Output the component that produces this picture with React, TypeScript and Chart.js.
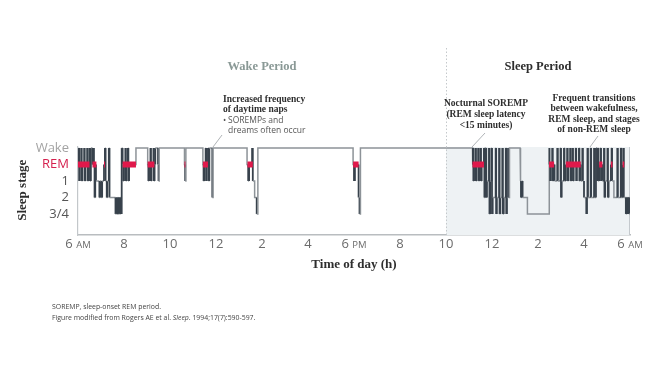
import React, { useEffect, useRef } from 'react';
import { Chart, registerables } from 'chart.js';

Chart.register(...registerables);

// Hypnogram: time of day in hours (6 = 6 AM, 30 = 6 AM next day) and stage entered at that time
// Stage codes: 4 = Wake, 3 = REM, 2 = stage 1, 1 = stage 2, 0 = stage 3/4
const hypnoTimes = [
  6.00, 6.03, 6.05, 6.08, 6.14, 6.16, 6.19, 6.27, 6.29, 6.32, 6.40, 6.42, 6.45, 6.50, 6.52, 6.56,
  6.63, 6.67, 6.69, 6.72, 6.75, 6.78, 6.93, 6.96, 7.02, 7.05, 7.13, 7.17, 7.20, 7.25, 7.28, 7.34, 7.37,
  7.63, 7.67, 7.69, 7.73, 7.75, 7.79, 7.81, 7.85, 7.87, 7.90,
  7.94, 7.97, 8.00, 8.06, 8.08, 8.11, 8.17, 8.19, 8.22, 8.52,
  9.03, 9.06, 9.09, 9.15, 9.17, 9.20, 9.28, 9.30, 9.33, 9.36, 9.48, 9.50, 9.53,
  10.63, 10.66, 10.69, 11.43, 11.46, 11.49, 11.55, 11.57, 11.60, 11.65, 11.68, 11.71, 11.84, 11.87,
  13.35, 13.40, 13.44, 13.57, 13.60, 13.68, 13.77, 13.82, 17.96, 18.00, 18.04, 18.20, 18.24, 18.28,
  23.15, 23.17, 23.19, 23.22, 23.28, 23.30, 23.33, 23.40, 23.42, 23.45, 23.50, 23.52, 23.55, 23.65, 23.67, 23.70, 23.75, 23.78,
  23.87, 23.89, 23.92, 23.98, 24.00, 24.03, 24.16, 24.18, 24.21, 24.31, 24.33, 24.36, 24.45, 24.47, 24.51, 24.60, 24.62, 24.65, 24.70, 24.72, 24.76,
  25.22, 25.26, 25.29, 25.33, 25.54, 26.48,
  26.50, 26.53, 26.56, 26.62, 26.64, 26.67, 26.72, 26.84, 26.86, 26.98, 27.00, 27.03, 27.13, 27.15,
  27.21, 27.27, 27.29, 27.32, 27.40, 27.42, 27.45, 27.50, 27.52, 27.55, 27.64, 27.66, 27.69, 27.78, 27.80, 27.83, 27.86, 27.93, 27.95,
  28.00, 28.10, 28.13, 28.15, 28.17, 28.29, 28.31, 28.44, 28.46, 28.52, 28.57, 28.60, 28.62,
  28.66, 28.72, 28.74, 28.77, 28.80, 28.87, 28.89, 28.92, 29.02, 29.04, 29.07, 29.17, 29.20, 29.22,
  29.30, 29.45, 29.47, 29.60, 29.62, 29.68, 29.71, 29.73, 29.82, 29.85, 29.87, 29.90, 29.92, 29.95, 29.97,
];
const hypnoStages = [
  3, 4, 2, 3, 4, 2, 3, 4, 2, 3, 4, 2, 3, 4, 2, 4,
  3, 4, 3, 1, 3, 2, 1, 2, 1, 2, 3, 4, 2, 1, 2, 4, 1,
  0, 1, 0, 1, 0, 1, 0, 1, 0, 4,
  3, 2, 3, 4, 2, 3, 4, 2, 3, 4,
  3, 2, 3, 4, 2, 3, 4, 2, 3, 4, 3, 2, 4,
  3, 2, 4, 3, 2, 3, 4, 2, 3, 4, 2, 4, 1, 4,
  3, 2, 3, 4, 2, 1, 0, 4, 3, 2, 3, 1, 0, 4,
  3, 4, 2, 3, 4, 2, 3, 4, 2, 3, 4, 2, 3, 4, 1, 4, 1, 2,
  4, 0, 2, 4, 0, 1, 4, 0, 1, 4, 0, 1, 4, 0, 1, 4, 0, 1, 4, 1, 4,
  2, 1, 2, 1, 0, 4,
  3, 2, 3, 4, 2, 3, 2, 4, 2, 4, 1, 2, 4, 2,
  3, 4, 2, 3, 4, 2, 3, 4, 2, 3, 4, 2, 3, 4, 2, 3, 2, 4, 2,
  1, 0, 1, 4, 1, 4, 1, 4, 1, 4, 2, 4, 2,
  3, 4, 2, 3, 2, 4, 1, 2, 4, 1, 2, 3, 4, 2,
  1, 4, 1, 4, 1, 3, 4, 1, 0, 1, 0, 1, 0, 1, 0,
];

// REM periods (red bands)
const remStarts = [6.00, 6.63, 7.13, 7.94, 9.03, 9.48, 10.63, 11.43, 13.37, 17.96, 23.15, 26.48, 27.21, 28.66, 29.17, 29.68];
const remEnds = [6.50, 6.80, 7.17, 8.52, 9.32, 9.52, 10.67, 11.65, 13.60, 18.20, 23.65, 26.70, 27.86, 28.80, 29.24, 29.75];

const stageTicks = [0, 1, 2, 3, 4];
const stageLabels = ['3/4', '2', '1', 'REM', 'Wake'];

const hourTicks = [6, 8, 10, 12, 14, 16, 18, 20, 22, 24, 26, 28, 30];
const hourLabels = ['6', '8', '10', '12', '2', '4', '6', '8', '10', '12', '2', '4', '6'];
const hourSuffix = ['AM', '', '', '', '', '', 'PM', '', '', '', '', '', 'AM'];

const dayStart = 6;
const dayEnd = 30;
const sleepStart = 22;
const yMin = -1.27;
const yMax = 4.06;

const SANS = "'Open Sans', 'Noto Sans', sans-serif";
const SERIF = "'Liberation Serif', 'DejaVu Serif', serif";
const RED = '#e0194b';

export default function App() {
  const ref = useRef<HTMLCanvasElement | null>(null);

  useEffect(() => {
    if (!ref.current) return;

    // Build explicit step points (each transition = vertical segment)
    const pts: { x: number; y: number }[] = [];
    const dark: boolean[] = [];
    for (let i = 0; i < hypnoTimes.length; i++) {
      if (i === 0) {
        pts.push({ x: hypnoTimes[0], y: hypnoStages[0] });
        continue;
      }
      const prevDwell = hypnoTimes[i] - hypnoTimes[i - 1];
      const nextDwell = (i + 1 < hypnoTimes.length ? hypnoTimes[i + 1] : dayEnd) - hypnoTimes[i];
      const isDark = Math.min(prevDwell, nextDwell) <= 0.07 && Math.max(prevDwell, nextDwell) < 0.3;
      pts.push({ x: hypnoTimes[i], y: hypnoStages[i - 1] });
      pts.push({ x: hypnoTimes[i], y: hypnoStages[i] });
      dark[pts.length - 2] = isDark;
    }
    pts.push({ x: dayEnd, y: hypnoStages[hypnoStages.length - 1] });

    const remPts: { x: number; y: number | null }[] = [];
    for (let i = 0; i < remStarts.length; i++) {
      remPts.push({ x: remStarts[i], y: 3 });
      remPts.push({ x: remEnds[i], y: 3 });
      remPts.push({ x: remEnds[i] + 0.001, y: null });
    }

    const textPlugin = {
      id: 'annotText',
      afterDatasetsDraw(chart: any) {
        const ctx = chart.ctx;
        const xs = chart.scales.x;
        const ys = chart.scales.y;
        const xd = xs.getPixelForValue(sleepStart);
        ctx.save();
        ctx.strokeStyle = '#c4c8cb';
        ctx.lineWidth = 1;
        ctx.setLineDash([1.5, 2]);
        ctx.beginPath();
        ctx.moveTo(xd + 0.5, 48);
        ctx.lineTo(xd + 0.5, ys.bottom);
        ctx.stroke();
        ctx.restore();
      },
      afterDraw(chart: any) {
        const ctx = chart.ctx;
        const xs = chart.scales.x;
        const ys = chart.scales.y;
        ctx.save();
        ctx.textBaseline = 'middle';

        // Period titles
        const xL = xs.getPixelForValue(dayStart);
        const xS = xs.getPixelForValue(sleepStart);
        const xR = xs.getPixelForValue(dayEnd);
        ctx.font = `bold 12.5px ${SERIF}`;
        ctx.textAlign = 'center';
        ctx.fillStyle = '#8a9996';
        ctx.fillText('Wake Period', (xL + xS) / 2, 67);
        ctx.fillStyle = '#2e2e2e';
        ctx.fillText('Sleep Period', (xS + xR) / 2, 67);

        // Nap annotation
        ctx.textAlign = 'left';
        ctx.fillStyle = '#2e2e2e';
        ctx.font = `bold 9.5px ${SERIF}`;
        ctx.fillText('Increased frequency', 223, 99.5);
        ctx.fillText('of daytime naps', 223, 109.5);
        ctx.fillStyle = '#555';
        ctx.font = `8.5px ${SANS}`;
        ctx.fillText('•', 223, 120.5);
        ctx.fillText('SOREMPs and', 228, 120.5);
        ctx.fillText('dreams often occur', 228, 130.5);

        // Nocturnal SOREMP
        ctx.textAlign = 'center';
        ctx.fillStyle = '#2e2e2e';
        ctx.font = `bold 9.5px ${SERIF}`;
        ctx.fillText('Nocturnal SOREMP', 486, 103.5);
        ctx.fillText('(REM sleep latency', 486, 114.5);
        ctx.fillText('<15 minutes)', 486, 125.5);

        // Frequent transitions
        ctx.fillText('Frequent transitions', 594, 98.5);
        ctx.fillText('between wakefulness,', 594, 109);
        ctx.fillText('REM sleep, and stages', 594, 119.5);
        ctx.fillText('of non-REM sleep', 594, 130);

        // Leader lines
        ctx.strokeStyle = '#9a9fa3';
        ctx.lineWidth = 0.8;
        ctx.beginPath();
        ctx.moveTo(222, 135); ctx.lineTo(213, 147);
        ctx.moveTo(485, 133); ctx.lineTo(472, 147);
        ctx.moveTo(598, 136); ctx.lineTo(590, 147);
        ctx.stroke();

        // x tick labels with AM/PM suffix
        const tickPad = 1;
        const ly = xs.top + tickPad + (13 * 1.2) / 2;
        for (let i = 0; i < hourTicks.length; i++) {
          if (!hourSuffix[i]) continue;
          const px = xs.getPixelForValue(hourTicks[i]);
          ctx.font = `13px ${SANS}`;
          const w1 = ctx.measureText(hourLabels[i]).width;
          ctx.font = `9.5px ${SANS}`;
          const w2 = ctx.measureText(hourSuffix[i]).width;
          const gap = 3.5;
          const start = px - (w1 + gap + w2) / 2;
          ctx.textAlign = 'left';
          ctx.fillStyle = '#6b6b6b';
          ctx.font = `13px ${SANS}`;
          ctx.fillText(hourLabels[i], start, ly);
          ctx.font = `9.5px ${SANS}`;
          ctx.fillText(hourSuffix[i], start + w1 + gap, ly + 1);
        }

        // Axis titles
        ctx.fillStyle = '#2e2e2e';
        ctx.font = `bold 13px ${SERIF}`;
        ctx.textAlign = 'center';
        ctx.fillText('Time of day (h)', (xL + xR) / 2, 265);
        ctx.save();
        ctx.translate(23, (ys.getPixelForValue(3) + ys.getPixelForValue(0)) / 2 + 1);
        ctx.rotate(-Math.PI / 2);
        ctx.fillText('Sleep stage', 0, 0);
        ctx.restore();

        // Footnotes
        ctx.textAlign = 'left';
        ctx.fillStyle = '#444';
        ctx.font = `6.9px ${SANS}`;
        ctx.fillText('SOREMP, sleep-onset REM period.', 52, 307.5);
        const p1 = 'Figure modified from Rogers AE et al. ';
        ctx.fillText(p1, 52, 318);
        let cx = 52 + ctx.measureText(p1).width;
        ctx.font = `italic 6.9px ${SANS}`;
        ctx.fillText('Sleep', cx, 318);
        cx += ctx.measureText('Sleep').width;
        ctx.font = `6.9px ${SANS}`;
        ctx.fillText('. 1994;17(7):590-597.', cx, 318);

        ctx.restore();
      },
    };

    const chart = new Chart(ref.current, {
      type: 'line',
      data: {
        datasets: [
          {
            label: 'REM',
            data: remPts as any,
            borderColor: RED,
            borderWidth: 6,
            borderCapStyle: 'butt',
            pointRadius: 0,
            spanGaps: false,
            fill: false,
          },
          {
            label: 'Hypnogram',
            data: pts as any,
            borderColor: '#8d9398',
            borderWidth: 1.5,
            pointRadius: 0,
            fill: false,
            borderJoinStyle: 'miter',
            segment: {
              borderColor: (c: any) => (dark[c.p0DataIndex] ? '#38424c' : '#8d9398'),
              borderWidth: (c: any) => (dark[c.p0DataIndex] ? 1.8 : 1.5),
            },
          },
          {
            label: 'Sleep border',
            data: [
              { x: dayEnd, y: yMin },
              { x: dayEnd, y: yMax },
            ],
            borderColor: '#a9aeb2',
            borderWidth: 1.2,
            pointRadius: 0,
            fill: false,
          },
          {
            label: 'Sleep period',
            data: [
              { x: sleepStart, y: yMax },
              { x: dayEnd, y: yMax },
            ],
            borderWidth: 0,
            borderColor: 'rgba(0,0,0,0)',
            backgroundColor: '#eef2f4',
            pointRadius: 0,
            fill: 'start',
          },
        ],
      },
      options: {
        responsive: false,
        animation: false,
        events: [],
        layout: { padding: { top: 147, right: 30, bottom: 107, left: 0 } },
        plugins: {
          legend: { display: false },
          tooltip: { enabled: false },
          title: { display: false },
        },
        scales: {
          x: {
            type: 'linear',
            min: dayStart,
            max: dayEnd,
            afterBuildTicks: (s: any) => {
              s.ticks = hourTicks.map((v) => ({ value: v }));
            },
            afterFit: (s: any) => {
              s.height = 30;
            },
            grid: { display: false, drawTicks: false },
            border: { display: true, color: '#b9bdc0', width: 1.5 },
            ticks: {
              autoSkip: false,
              maxRotation: 0,
              padding: 1,
              color: '#6b6b6b',
              font: { family: SANS, size: 13 },
              callback: (v: any) => {
                const i = hourTicks.indexOf(Number(v));
                if (i < 0 || hourSuffix[i]) return '';
                return hourLabels[i];
              },
            },
          },
          y: {
            type: 'linear',
            min: yMin,
            max: yMax,
            afterBuildTicks: (s: any) => {
              s.ticks = stageTicks.map((v) => ({ value: v }));
            },
            afterFit: (s: any) => {
              s.width = 78;
            },
            grid: { display: false, drawTicks: false },
            border: { display: true, color: '#c3c7ca', width: 1.2 },
            ticks: {
              padding: 9,
              font: { family: SANS, size: 13 },
              color: (c: any) => {
                const v = c.tick ? c.tick.value : 0;
                if (v === 4) return '#a3a3a3';
                if (v === 3) return '#d51f4d';
                return '#555';
              },
              callback: (v: any) => {
                const i = stageTicks.indexOf(Number(v));
                return i < 0 ? '' : stageLabels[i];
              },
            },
          },
        },
      },
      plugins: [textPlugin],
    } as any);

    return () => chart.destroy();
  }, []);

  return (
    <div style={{ position: 'absolute', left: 0, top: 0, width: 660, height: 372, background: '#fff' }}>
      <canvas ref={ref} width={660} height={372} />
    </div>
  );
}
